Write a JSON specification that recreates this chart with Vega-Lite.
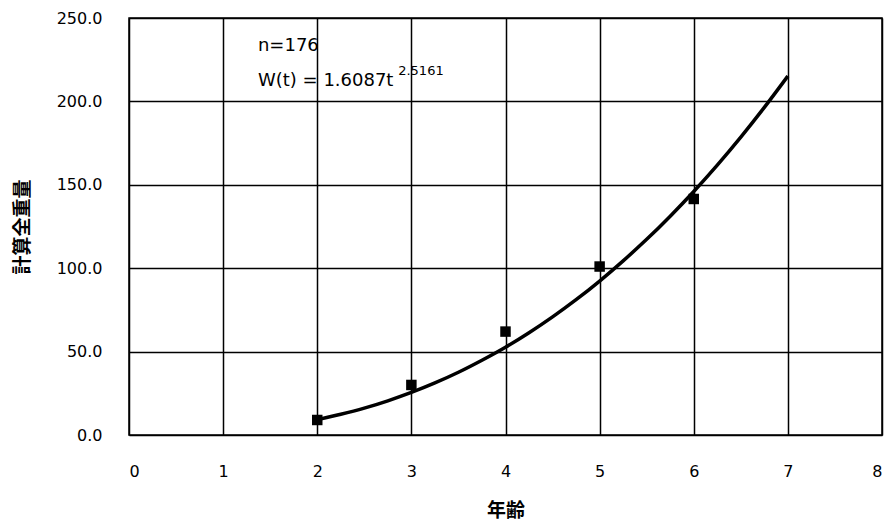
{
  "$schema": "https://vega.github.io/schema/vega-lite/v6.json",
  "autosize": "none",
  "width": 753,
  "height": 417,
  "padding": {"left": 129, "top": 18, "right": 10, "bottom": 89},
  "background": "white",
  "config": {
    "view": {"stroke": "black", "strokeWidth": 1.5},
    "font": "DejaVu Sans",
    "axis": {
      "grid": true, "gridColor": "black", "gridOpacity": 1, "gridWidth": 1.5,
      "domain": false, "ticks": false,
      "labelFont": "DejaVu Sans", "labelFontSize": 16, "labelColor": "black", "labelFontWeight": 500,
      "titleFont": "Noto Sans CJK JP", "titleFontSize": 19, "titleColor": "black", "titleFontWeight": "bold"
    }
  },
  "datasets": {
    "obs": [
      {"age": 2, "w": 9.0},
      {"age": 3, "w": 30.0},
      {"age": 4, "w": 62.0},
      {"age": 5, "w": 101.0},
      {"age": 6, "w": 141.5}
    ],
    "fit": [
      {"age": 2.0, "w": 9.2},
      {"age": 2.25, "w": 12.4},
      {"age": 2.5, "w": 16.1},
      {"age": 2.75, "w": 20.5},
      {"age": 3.0, "w": 25.5},
      {"age": 3.25, "w": 31.2},
      {"age": 3.5, "w": 37.6},
      {"age": 3.75, "w": 44.8},
      {"age": 4.0, "w": 52.6},
      {"age": 4.25, "w": 61.3},
      {"age": 4.5, "w": 70.8},
      {"age": 4.75, "w": 81.1},
      {"age": 5.0, "w": 92.3},
      {"age": 5.25, "w": 104.4},
      {"age": 5.5, "w": 117.3},
      {"age": 5.75, "w": 131.2},
      {"age": 6.0, "w": 146.0},
      {"age": 6.25, "w": 161.8},
      {"age": 6.5, "w": 178.6},
      {"age": 6.75, "w": 196.4},
      {"age": 7.0, "w": 215.2}
    ],
    "notes": [
      {"age": 1.37, "w": 233, "label": "n=176", "size": 18},
      {"age": 1.37, "w": 212, "label": "W(t) = 1.6087t", "size": 18},
      {"age": 2.86, "w": 218, "label": "2.5161", "size": 13}
    ]
  },
  "layer": [
    {
      "data": {"name": "fit"},
      "mark": {"type": "line", "color": "black", "strokeWidth": 3.5, "interpolate": "monotone"},
      "encoding": {
        "x": {"field": "age", "type": "quantitative",
              "scale": {"domain": [0, 8], "nice": false},
              "axis": {"values": [0,1,2,3,4,5,6,7,8], "format": "d", "labelPadding": 28, "title": "年齢", "titlePadding": 22}},
        "y": {"field": "w", "type": "quantitative",
              "scale": {"domain": [0, 250], "nice": false},
              "axis": {"values": [0,50,100,150,200,250], "format": ".1f", "labelPadding": 27, "title": "計算全重量", "titlePadding": 24}}
      }
    },
    {
      "data": {"name": "obs"},
      "mark": {"type": "square", "color": "black", "opacity": 1, "size": 110},
      "encoding": {
        "x": {"field": "age", "type": "quantitative"},
        "y": {"field": "w", "type": "quantitative"}
      }
    },
    {
      "data": {"name": "notes"},
      "mark": {"type": "text", "align": "left", "baseline": "middle", "font": "DejaVu Sans", "color": "black"},
      "encoding": {
        "x": {"field": "age", "type": "quantitative"},
        "y": {"field": "w", "type": "quantitative"},
        "text": {"field": "label"},
        "size": {"field": "size", "type": "quantitative", "scale": null, "legend": null}
      }
    }
  ]
}
